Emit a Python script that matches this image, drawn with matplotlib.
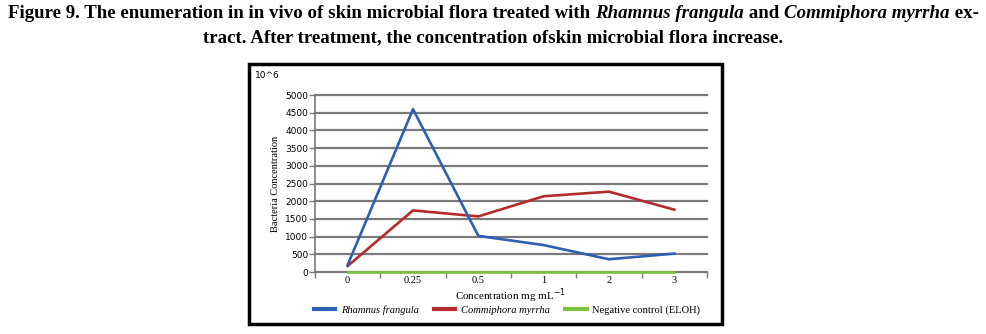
import matplotlib
matplotlib.use("Agg")
import matplotlib.pyplot as plt
from matplotlib.patches import Rectangle

# data
concentrations = ["0", "0.25", "0.5", "1", "2", "3"]
rhamnus = [200, 4600, 1020, 760, 360, 520]
commiphora = [170, 1740, 1570, 2140, 2270, 1760]
negative = [0, 0, 0, 0, 0, 0]

plt.rcParams['font.family'] = ['Liberation Serif', 'DejaVu Serif']

W, H = 987, 334
fig = plt.figure(figsize=(W / 100, H / 100), dpi=100)

def px(x, y):
    return x / W, 1 - y / H

# title, mixed upright/italic pieces laid out left to right
def draw_line(pieces, yc, size):
    r = fig.canvas.get_renderer()
    texts = []
    for s, st in pieces:
        t = fig.text(0, px(0, yc)[1], s, fontsize=size, fontweight='bold',
                     style=st, va='center', ha='left')
        texts.append(t)
    widths = [t.get_window_extent(r).width for t in texts]
    x = (W - sum(widths)) / 2
    for t, w in zip(texts, widths):
        t.set_x(x / W)
        x += w

draw_line([("Figure 9. The enumeration in in vivo of skin microbial flora treated with ", 'normal'),
           ("Rhamnus frangula", 'italic'), (" and ", 'normal'),
           ("Commiphora myrrha", 'italic'), (" ex-", 'normal')], 14, 13.6)
draw_line([("tract. After treatment, the concentration ofskin microbial flora increase.", 'normal')], 38, 13.6)

# chart frame
x0, y0 = px(249, 324)
x1, y1 = px(722, 64)
fig.patches.append(Rectangle((x0, y0), x1 - x0, y1 - y0, transform=fig.transFigure,
                             fill=False, ec='black', lw=2.5))
fig.text(*px(255, 76), "10^6", fontsize=6.5, va='center', ha='left', family='DejaVu Sans')

l, b = px(315, 272)
r_, t_ = px(707, 95)
ax = fig.add_axes([l, b, r_ - l, t_ - b])

xs = range(len(concentrations))
ax.plot(xs, rhamnus, color='#2e5fb0', lw=1.9, label='Rhamnus frangula', zorder=4)
ax.plot(xs, commiphora, color='#b52a2a', lw=1.9, label='Commiphora myrrha', zorder=3)
ax.plot(xs, negative, color='#7fbf3f', lw=1.9, label='Negative control (ELOH)', zorder=5,
        clip_on=False)

ax.set_xlim(-0.5, len(concentrations) - 0.5)
ax.set_ylim(0, 5000)
ax.set_yticks(range(0, 5001, 500))
ax.yaxis.grid(True, color='#7a7a7a', lw=1.6)
for gl in ax.get_ygridlines():
    gl.set_clip_on(False)
ax.set_axisbelow(True)
ax.set_xticks(list(xs))
ax.set_xticklabels(concentrations)
ax.set_xticks([i - 0.5 for i in range(len(concentrations) + 1)], minor=True)
ax.tick_params(axis='x', which='major', length=0, labelsize=7.5, pad=3)
ax.tick_params(axis='x', which='minor', length=4, color='#7a7a7a', width=1)
ax.tick_params(axis='y', length=4, color='#7a7a7a', width=1, labelsize=7.5, pad=1)
for lab in ax.get_yticklabels():
    lab.set_family('DejaVu Sans')
    lab.set_fontsize(6.5)
for s in ['top', 'right']:
    ax.spines[s].set_visible(False)
for s in ['left', 'bottom']:
    ax.spines[s].set_color('#7a7a7a')
    ax.spines[s].set_linewidth(1.2)

ax.set_ylabel("Bacteria Concentration", fontsize=7.5, labelpad=4)
ax.set_xlabel("Concentration mg mL$^{-1}$", fontsize=8, labelpad=1)

leg = fig.legend(loc='center', bbox_to_anchor=px(507, 310), ncol=3, frameon=False,
                 fontsize=7.6, handlelength=2.0, columnspacing=1.5, handletextpad=0.5,
                 borderpad=0)
for ln in leg.get_lines():
    ln.set_linewidth(3)
texts = leg.get_texts()
texts[0].set_style('italic')
texts[1].set_style('italic')

fig.savefig("out.png", dpi=100)
